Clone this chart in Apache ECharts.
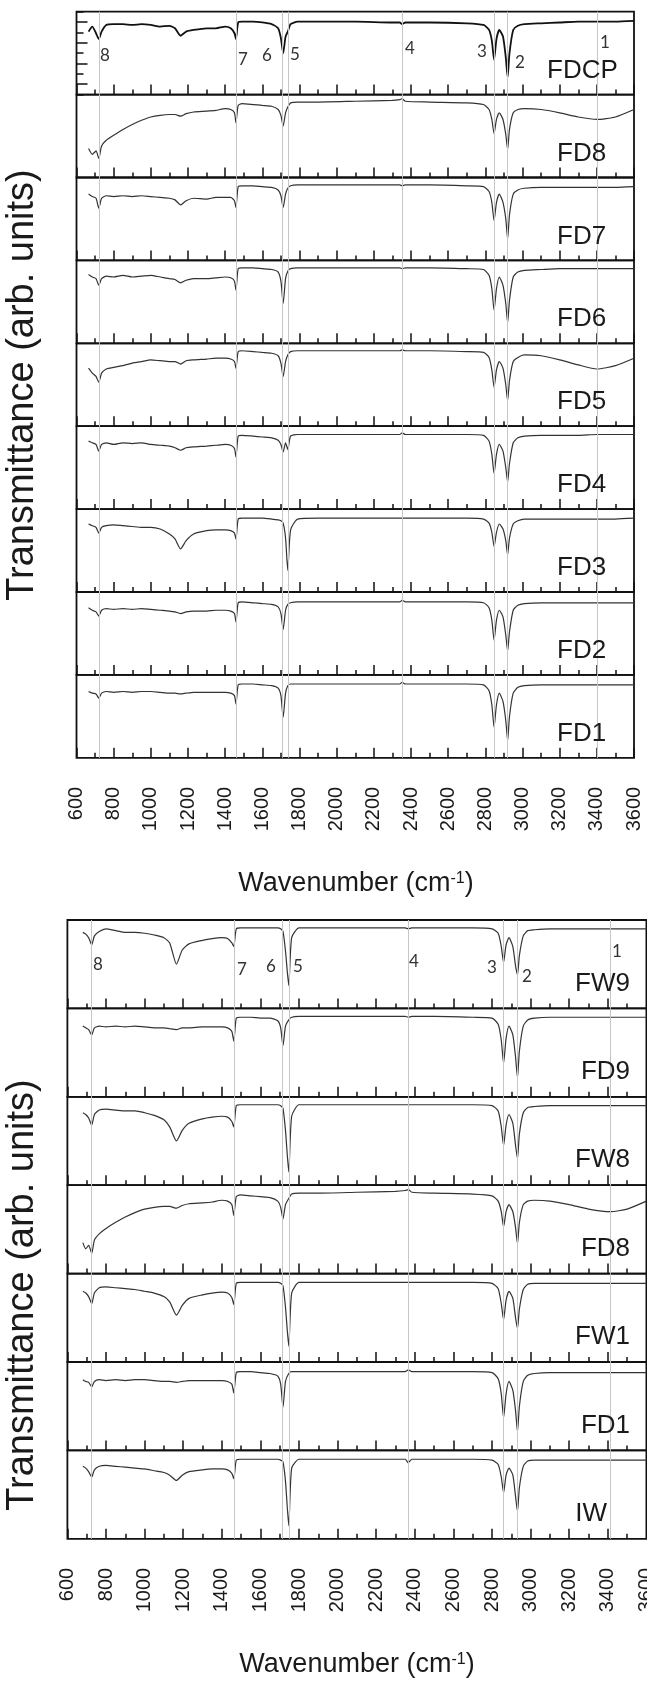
<!DOCTYPE html>
<html>
<head>
<meta charset="utf-8">
<title>FTIR spectra</title>
<script src="https://cdn.jsdelivr.net/npm/echarts@6/dist/echarts.min.js"></script>
<style>
  html, body { margin: 0; padding: 0; background: #fff; }
  #chart { width: 647px; height: 1690px; }
</style>
</head>
<body>
<div id="chart"></div>
<script>
// wavenumber grids (cm-1) for the upper and lower figure
var wnTop = [665, 685, 705, 720, 735, 760, 800, 850, 900, 950,
  1000, 1050, 1100, 1130, 1160, 1190, 1230, 1300, 1350, 1400,
  1430, 1450, 1458, 1470, 1490, 1550, 1600, 1650, 1685, 1700,
  1712, 1725, 1737, 1752, 1790, 1900, 2100, 2300, 2340, 2352,
  2370, 2500, 2700, 2790, 2820, 2835, 2847, 2860, 2875, 2895,
  2910, 2920, 2930, 2950, 2975, 3010, 3100, 3200, 3300, 3400,
  3500, 3600];
var wnBot = [680, 695, 710, 726, 740, 765, 800, 850, 900, 950,
  1000, 1050, 1100, 1130, 1165, 1195, 1230, 1300, 1350, 1400,
  1430, 1452, 1462, 1475, 1495, 1550, 1600, 1650, 1690, 1705,
  1717, 1730, 1747, 1762, 1800, 1900, 2100, 2300, 2350, 2366,
  2385, 2500, 2700, 2800, 2832, 2848, 2860, 2873, 2888, 2908,
  2922, 2932, 2942, 2962, 2985, 3020, 3100, 3200, 3300, 3412,
  3500, 3600];

// grey band lines and their numbers
var bandsTop = [720, 1458, 1705, 1737, 2352, 2847, 2920, 3403];
var bandsBot = [726, 1462, 1715, 1747, 2366, 2860, 2932, 3412];
var bandNames = ['8', '7', '6', '5', '4', '3', '2', '1'];

// transmittance, scaled 0..1 inside each panel
var fdcp = [.76, .82, .74, .67, .76, .84, .85, .85, .84, .85,
  .84, .82, .83, .80, .71, .76, .78, .80, .80, .82,
  .80, .74, .67, .87, .88, .88, .87, .85, .80, .68,
  .50, .70, .76, .85, .88, .88, .88, .87, .87, .85,
  .87, .87, .86, .84, .78, .65, .42, .67, .78, .70,
  .45, .21, .50, .78, .83, .85, .86, .87, .88, .88,
  .88, .89];
var fd8 = [.35, .28, .32, .23, .38, .45, .51, .58, .64, .69,
  .73, .75, .76, .76, .74, .77, .79, .80, .81, .83,
  .82, .78, .66, .87, .89, .88, .87, .86, .82, .75,
  .62, .78, .85, .90, .91, .91, .92, .93, .94, .95,
  .92, .91, .90, .88, .82, .70, .53, .70, .78, .70,
  .52, .34, .58, .78, .82, .83, .82, .78, .73, .70,
  .73, .82];
var fd7 = [.80, .77, .75, .63, .75, .78, .77, .78, .77, .78,
  .77, .76, .75, .73, .67, .72, .75, .74, .76, .76,
  .76, .72, .64, .89, .90, .90, .89, .88, .85, .78,
  .64, .80, .87, .90, .91, .91, .91, .91, .91, .90,
  .91, .91, .90, .89, .83, .70, .48, .70, .80, .70,
  .50, .26, .55, .80, .85, .87, .88, .88, .88, .88,
  .88, .89];
var fd6 = [.83, .80, .78, .70, .78, .81, .80, .82, .80, .81,
  .82, .80, .78, .77, .73, .76, .78, .78, .79, .80,
  .79, .75, .64, .90, .91, .91, .90, .89, .86, .75,
  .48, .78, .87, .90, .91, .91, .91, .91, .91, .90,
  .91, .91, .90, .89, .82, .66, .40, .66, .80, .70,
  .48, .25, .52, .80, .86, .88, .89, .90, .90, .90,
  .90, .90];
var fd5 = [.70, .64, .60, .53, .64, .69, .71, .73, .76, .78,
  .80, .79, .78, .78, .75, .79, .80, .81, .82, .82,
  .81, .78, .70, .90, .91, .90, .89, .88, .85, .76,
  .60, .78, .86, .90, .91, .91, .91, .91, .91, .92,
  .91, .91, .90, .89, .83, .68, .47, .68, .78, .70,
  .50, .31, .55, .78, .83, .86, .85, .80, .74, .69,
  .73, .82];
var fd4 = [.82, .80, .78, .70, .78, .80, .78, .80, .79, .80,
  .78, .77, .76, .74, .71, .74, .75, .76, .77, .78,
  .77, .73, .63, .88, .89, .88, .87, .86, .83, .78,
  .69, .80, .72, .88, .90, .90, .90, .90, .90, .92,
  .90, .90, .90, .89, .82, .66, .43, .66, .78, .70,
  .50, .33, .55, .80, .86, .88, .89, .89, .89, .90,
  .90, .90];
var fd3 = [.82, .80, .78, .71, .78, .80, .81, .80, .79, .78,
  .78, .76, .70, .64, .52, .62, .70, .74, .75, .75,
  .74, .71, .64, .88, .89, .89, .89, .88, .87, .86,
  .83, .65, .26, .75, .88, .89, .89, .89, .89, .89,
  .89, .89, .89, .88, .83, .72, .55, .72, .82, .76,
  .62, .45, .65, .82, .86, .88, .88, .88, .88, .88,
  .88, .89];
var fd2 = [.81, .78, .76, .71, .78, .80, .79, .80, .79, .80,
  .79, .78, .77, .76, .74, .76, .77, .77, .78, .78,
  .77, .74, .64, .87, .88, .87, .86, .85, .82, .74,
  .55, .78, .85, .87, .88, .88, .88, .88, .88, .90,
  .88, .88, .88, .87, .81, .66, .42, .66, .78, .70,
  .48, .29, .52, .78, .84, .86, .87, .87, .87, .87,
  .87, .87];
var fd1 = [.80, .78, .77, .72, .78, .80, .79, .80, .79, .80,
  .80, .79, .78, .78, .77, .78, .79, .79, .79, .79,
  .78, .75, .65, .88, .89, .89, .88, .87, .84, .75,
  .49, .78, .87, .89, .89, .89, .89, .89, .89, .91,
  .89, .89, .89, .88, .81, .64, .37, .64, .78, .68,
  .45, .21, .50, .78, .85, .87, .88, .88, .88, .88,
  .88, .88];
var fw9 = [.86, .84, .80, .72, .82, .87, .90, .88, .86, .86,
  .85, .83, .80, .74, .50, .66, .73, .77, .79, .80,
  .79, .74, .70, .90, .91, .91, .91, .91, .91, .90,
  .87, .65, .26, .80, .91, .91, .91, .91, .91, .90,
  .91, .91, .91, .90, .85, .70, .52, .72, .80, .70,
  .48, .38, .60, .82, .88, .89, .90, .90, .90, .90,
  .90, .90];
var fd9 = [.80, .78, .76, .70, .78, .80, .79, .80, .79, .80,
  .79, .78, .78, .77, .76, .78, .78, .79, .79, .79,
  .78, .74, .63, .89, .90, .90, .89, .89, .86, .78,
  .58, .80, .87, .90, .91, .91, .91, .91, .91, .90,
  .91, .91, .90, .89, .82, .64, .38, .66, .80, .70,
  .45, .22, .52, .80, .87, .89, .90, .90, .90, .90,
  .90, .90];
var fw8 = [.82, .80, .76, .68, .80, .85, .86, .85, .84, .84,
  .82, .79, .74, .66, .50, .62, .70, .75, .77, .78,
  .77, .72, .66, .90, .91, .91, .91, .91, .91, .90,
  .87, .62, .15, .78, .91, .91, .91, .91, .91, .91,
  .91, .91, .91, .90, .84, .66, .45, .68, .80, .70,
  .45, .30, .58, .82, .88, .89, .90, .90, .90, .90,
  .90, .90];
var fw1 = [.80, .78, .74, .66, .78, .84, .85, .84, .83, .82,
  .80, .78, .74, .68, .53, .64, .72, .76, .78, .79,
  .78, .73, .65, .89, .90, .90, .90, .90, .90, .89,
  .86, .62, .18, .78, .90, .90, .90, .90, .90, .90,
  .90, .90, .90, .89, .83, .66, .48, .70, .80, .72,
  .50, .38, .60, .82, .88, .89, .89, .89, .89, .89,
  .89, .89];
var iw = [.82, .80, .76, .70, .78, .82, .83, .82, .81, .80,
  .79, .77, .75, .72, .66, .72, .76, .78, .79, .79,
  .78, .74, .68, .89, .90, .90, .90, .90, .90, .89,
  .87, .65, .15, .80, .90, .90, .90, .90, .90, .86,
  .90, .90, .90, .89, .84, .70, .52, .72, .80, .72,
  .48, .31, .58, .82, .88, .89, .89, .89, .89, .89,
  .89, .89];

var topNames = ['FDCP', 'FD8', 'FD7', 'FD6', 'FD5', 'FD4', 'FD3', 'FD2', 'FD1'];
var topData = [fdcp, fd8, fd7, fd6, fd5, fd4, fd3, fd2, fd1];
var botNames = ['FW9', 'FD9', 'FW8', 'FD8', 'FW1', 'FD1', 'IW'];
var botData = [fw9, fd9, fw8, fd8, fw1, fd1, iw];

var chart = echarts.init(document.getElementById('chart'));
var FONT = '"Liberation Sans", Arial, sans-serif';

var grids = [], xAxes = [], yAxes = [], series = [], graphics = [];

// one stacked panel = grid + axes + line
function addPanel(fig, i, count, wn, vals, bands, name) {
  var k = grids.length;
  var top = fig.top + fig.h * i;
  grids.push({
    left: fig.left, top: top, width: fig.w, height: fig.h,
    outerBoundsMode: 'none', containLabel: false,
    show: true, borderColor: '#111', borderWidth: 1.8, backgroundColor: 'transparent'
  });
  xAxes.push({
    gridIndex: k, type: 'value', min: 600, max: 3600, interval: 200,
    axisLine: { show: false },
    axisTick: { show: true, inside: true, length: 10, lineStyle: { color: '#111', width: 1.5 } },
    minorTick: { show: true, splitNumber: 2, length: 5, lineStyle: { color: '#111', width: 1.5 } },
    splitLine: { show: false },
    axisLabel: {
      show: i === count - 1, rotate: 90, margin: 29, fontSize: 20,
      fontFamily: FONT, color: '#1a1a1a', showMaxLabel: true, showMinLabel: true,
      formatter: function (v) { return String(v); }
    }
  });
  var first = fig.ticks && i === 0;
  yAxes.push({
    gridIndex: k, type: 'value', min: 0, max: 1, interval: 0.25,
    axisLine: { show: false },
    axisLabel: { show: false },
    splitLine: { show: false },
    axisTick: { show: first, inside: true, length: 7, lineStyle: { color: '#111', width: 1.5 } },
    minorTick: { show: first, splitNumber: 2, length: 11, lineStyle: { color: '#111', width: 1.5 } }
  });
  series.push({
    type: 'line', xAxisIndex: k, yAxisIndex: k,
    data: wn.map(function (w, j) { return [w, vals[j]]; }),
    showSymbol: false, smooth: 0.2,
    lineStyle: { color: name === 'FDCP' ? '#111' : '#333', width: name === 'FDCP' ? 1.8 : 1.2 },
    markLine: {
      silent: true, symbol: 'none', label: { show: false },
      lineStyle: { color: '#c6c6c6', width: 1, type: 'solid' },
      data: bands.map(function (b) { return { xAxis: b }; })
    }
  });
  // sample name
  graphics.push({
    type: 'text',
    x: fig.nameX(name), y: top + fig.h - fig.nameBottom + 5, z: 10,
    style: {
      text: name, fontSize: 26, fontFamily: FONT, fill: '#1a1a1a',
      verticalAlign: 'bottom', align: fig.nameRight ? 'right' : 'left'
    }
  });
}

var topFig = {
  left: 76.5, w: 557.5, top: 11.7, h: 82.9, ticks: true, nameBottom: 16,
  nameRight: false,
  nameX: function (n) { return n === 'FDCP' ? 547 : 557; }
};
var botFig = {
  left: 67.4, w: 579, top: 920, h: 88.4, ticks: false, nameBottom: 17,
  nameRight: true,
  nameX: function (n) { return n === 'IW' ? 607 : 630; }
};

topNames.forEach(function (n, i) { addPanel(topFig, i, topNames.length, wnTop, topData[i], bandsTop, n); });
botNames.forEach(function (n, i) { addPanel(botFig, i, botNames.length, wnBot, botData[i], bandsBot, n); });

// band numbers in the first panel of each figure
var numTop = [[100, 56], [238, 60], [262, 56], [290, 55], [405, 49], [477, 52], [515, 63], [600, 43]];
var numBot = [[93, 965], [237, 970], [266, 967], [293, 967], [409, 962], [487, 968], [522, 977], [612, 952]];
[numTop, numBot].forEach(function (pos) {
  pos.forEach(function (p, j) {
    graphics.push({
      type: 'text', x: p[0], y: p[1], z: 10,
      style: { text: bandNames[j], fontSize: 17, fontFamily: 'Lato, "Open Sans", sans-serif', fill: '#333', align: 'left', verticalAlign: 'middle' }
    });
  });
});

// axis titles
[[356, 884], [357, 1665]].forEach(function (p) {
  graphics.push({
    type: 'text', x: p[0], y: p[1],
    style: {
      text: 'Wavenumber (cm{sup|-1})', fontSize: 27, fontFamily: FONT, fill: '#1a1a1a',
      align: 'center', verticalAlign: 'middle',
      rich: { sup: { fontSize: 16, fontFamily: FONT, fill: '#1a1a1a', verticalAlign: 'top' } }
    }
  });
});
[[23, 385], [23, 1295]].forEach(function (p) {
  graphics.push({
    type: 'text', x: p[0], y: p[1], rotation: Math.PI / 2,
    style: { text: 'Transmittance (arb. units)', fontSize: 38, fontFamily: FONT, fill: '#1a1a1a', align: 'center', verticalAlign: 'middle' }
  });
});

chart.setOption({
  animation: false,
  backgroundColor: '#fff',
  grid: grids,
  xAxis: xAxes,
  yAxis: yAxes,
  series: series,
  graphic: graphics
});
</script>
</body>
</html>
